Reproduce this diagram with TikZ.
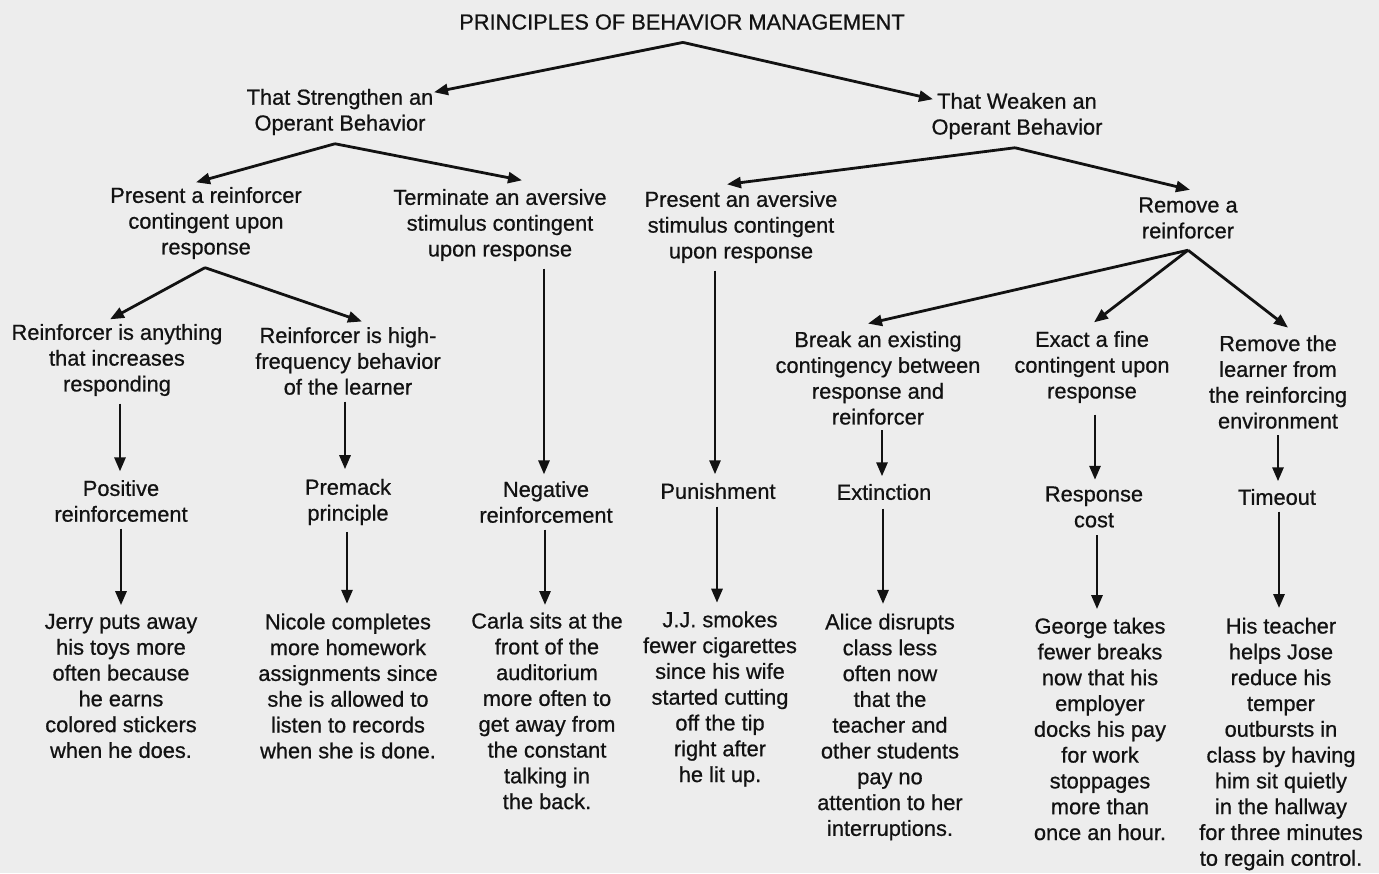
\documentclass[tikz,border=0pt]{standalone}
\usepackage{fontspec}
\setmainfont{Liberation Sans}[BoldFont=Liberation Sans, BoldFeatures={FakeBold=0.7}]
\usetikzlibrary{arrows.meta,calc}
\definecolor{bg}{RGB}{237,237,237}
\definecolor{ink}{RGB}{18,18,18}
\begin{document}
\begin{tikzpicture}[x=1pt,y=-1pt,
  lbl/.style={inner sep=0pt,align=center,text=ink,font=\fontsize{21.8}{25.8}\selectfont\bfseries},
  arr/.style={draw=ink,line width=2.8pt,-{Triangle[length=14pt,width=11pt]}}]
\fill[bg] (0,0) rectangle (1379,873);
\useasboundingbox (0,0) rectangle (1379,873);

\node[lbl] (title) at (682,22) {PRINCIPLES OF BEHAVIOR MANAGEMENT};
\node[lbl] (S) at (340,112) {That Strengthen an\\Operant Behavior};
\node[lbl] (W) at (1017,116) {That Weaken an\\Operant Behavior};

\node[lbl] (A1) at (206,223) {Present a reinforcer\\contingent upon\\response};
\node[lbl] (A2) at (500,225) {Terminate an aversive\\stimulus contingent\\upon response};
\node[lbl] (A3) at (741,227) {Present an aversive\\stimulus contingent\\upon response};
\node[lbl] (A4) at (1188,218) {Remove a\\reinforcer};

\node[lbl] (B1) at (117,360) {Reinforcer is anything\\that increases\\responding};
\node[lbl] (B2) at (348,361) {Reinforcer is high-\\frequency behavior\\of the learner};
\node[lbl] (B3) at (878,378) {Break an existing\\contingency between\\response and\\reinforcer};
\node[lbl] (B4) at (1092,367) {Exact a fine\\contingent upon\\response};
\node[lbl] (B5) at (1278,382) {Remove the\\learner from\\the reinforcing\\environment};

\node[lbl] (C1) at (121,501) {Positive\\reinforcement};
\node[lbl] (C2) at (348,502) {Premack\\principle};
\node[lbl] (C3) at (546,502) {Negative\\reinforcement};
\node[lbl] (C4) at (718,491) {Punishment};
\node[lbl] (C5) at (884,492) {Extinction};
\node[lbl] (C6) at (1094,507) {Response\\cost};
\node[lbl] (C7) at (1277,497) {Timeout};

\node[lbl] (D1) at (121,686) {Jerry puts away\\his toys more\\often because\\he earns\\colored stickers\\when he does.};
\node[lbl] (D2) at (348,686) {Nicole completes\\more homework\\assignments since\\she is allowed to\\listen to records\\when she is done.};
\node[lbl] (D3) at (547,711) {Carla sits at the\\front of the\\auditorium\\more often to\\get away from\\the constant\\talking in\\the back.};
\node[lbl] (D4) at (720,699) {J.J. smokes\\fewer cigarettes\\since his wife\\started cutting\\off the tip\\right after\\he lit up.};
\node[lbl] (D5) at (890,727) {Alice disrupts\\class less\\often now\\that the\\teacher and\\other students\\pay no\\attention to her\\interruptions.};
\node[lbl] (D6) at (1100,729) {George takes\\fewer breaks\\now that his\\employer\\docks his pay\\for work\\stoppages\\more than\\once an hour.};
\node[lbl] (D7) at (1281,744) {His teacher\\helps Jose\\reduce his\\temper\\outbursts in\\class by having\\him sit quietly\\in the hallway\\for three minutes\\to regain control.};

% level 1
\draw[arr] ($(title.south)+(1,12.5)$) -- ($(S.north)+(94,3.5)$);
\draw[arr] ($(title.south)+(1,12.5)$) -- ($(W.north)+(-84,6.5)$);
% level 2
\draw[arr] ($(S.south)+(-5,8.5)$) -- ($(A1.north)+(-10,-4.5)$);
\draw[arr] ($(S.south)+(-5,8.5)$) -- ($(A2.north)+(22,-8.5)$);
\draw[arr] ($(W.south)+(-2,8.5)$) -- ($(A3.north)+(-14,-6.5)$);
\draw[arr] ($(W.south)+(-2,8.5)$) -- ($(A4.north)+(2,-7.5)$);
% level 3
\draw[arr] ($(A1.south)+(-1,8.5)$) -- ($(B1.north)+(-7,-4.5)$);
\draw[arr] ($(A1.south)+(-1,8.5)$) -- ($(B2.north)+(14,-5.5)$);
\draw[arr] ($(A4.south)+(0,11.5)$) -- ($(B3.north)+(-10,-7.5)$);
\draw[arr] ($(A4.south)+(0,11.5)$) -- ($(B4.north)+(2,-8.5)$);
\draw[arr] ($(A4.south)+(0,11.5)$) -- ($(B5.north)+(10,-7.5)$);
% verticals to C
\draw[arr] ($(B1.south)+(3,7.5)$) -- ($(C1.north)+(-1,-8.5)$);
\draw[arr] ($(B2.south)+(-3,6.5)$) -- ($(C2.north)+(-3,-9.5)$);
\draw[arr] ($(A2.south)+(44,7.5)$) -- ($(C3.north)+(-2,-6.5)$);
\draw[arr] ($(A3.south)+(-26,7.5)$) -- ($(C4.north)+(-3,-8.5)$);
\draw[arr] ($(B3.south)+(4,5.5)$) -- ($(C5.north)+(-2,-7.5)$);
\draw[arr] ($(B4.south)+(3,11.5)$) -- ($(C6.north)+(1,-6.5)$);
\draw[arr] ($(B5.south)+(0,6.5)$) -- ($(C7.north)+(1,-7.5)$);
% verticals to D
\draw[arr] ($(C1.south)+(0,6.5)$) -- ($(D1.north)+(0,-8.5)$);
\draw[arr] ($(C2.south)+(-1,6.5)$) -- ($(D2.north)+(-1,-9.5)$);
\draw[arr] ($(C3.south)+(-1,6.5)$) -- ($(D3.north)+(-2,-7.5)$);
\draw[arr] ($(C4.south)+(-1,7.5)$) -- ($(D4.north)+(-3,-8.5)$);
\draw[arr] ($(C5.south)+(-1,8.5)$) -- ($(D5.north)+(-7,-9.5)$);
\draw[arr] ($(C6.south)+(3,7.5)$) -- ($(D6.north)+(-3,-8.5)$);
\draw[arr] ($(C7.south)+(2,6.5)$) -- ($(D7.north)+(-2,-9.5)$);
\end{tikzpicture}
\end{document}
